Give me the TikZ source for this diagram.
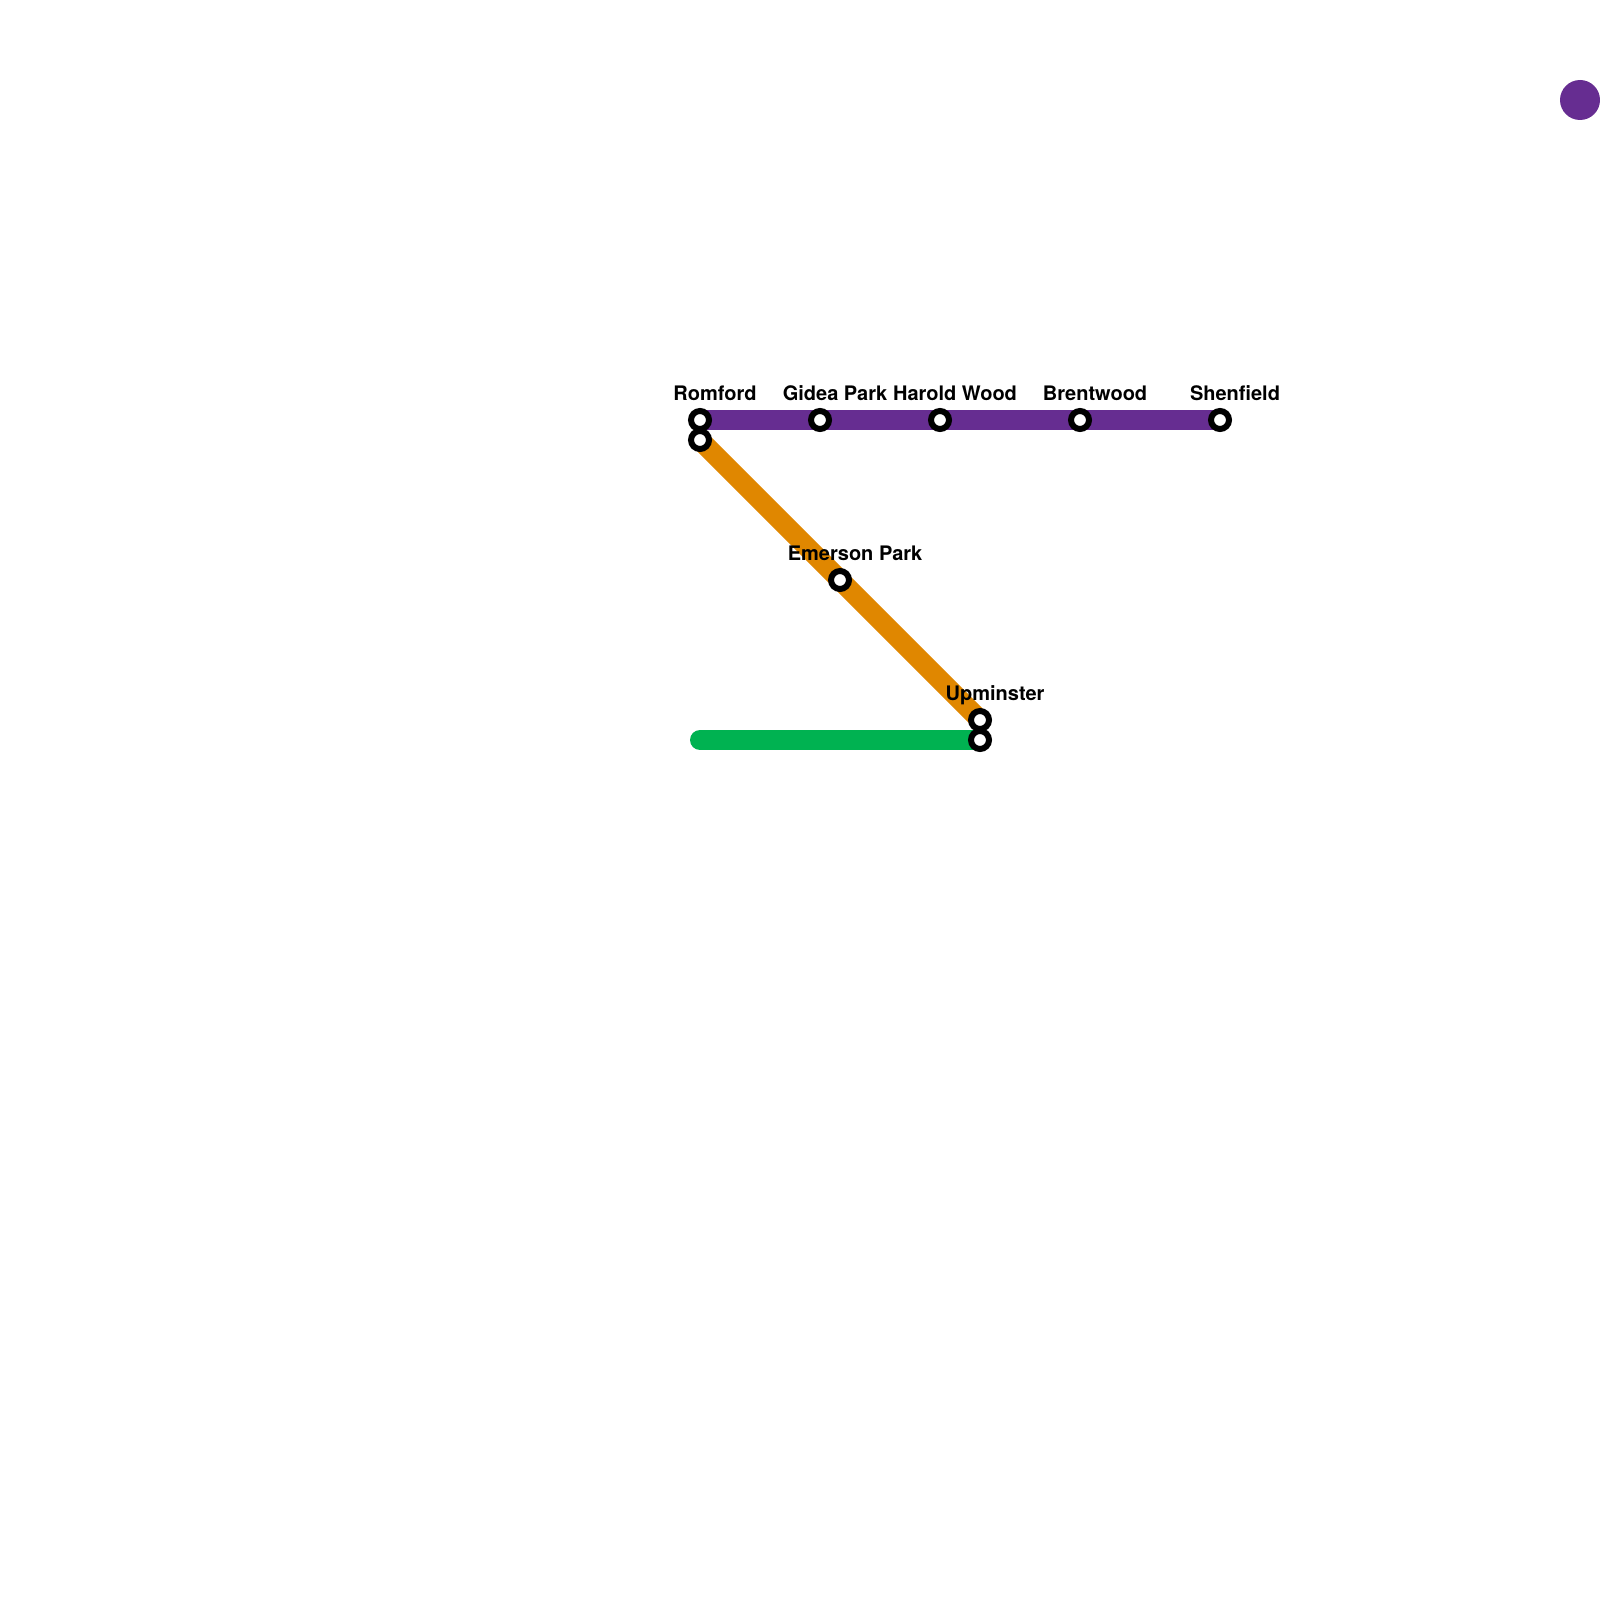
\documentclass[tikz,border=0pt]{standalone}
\usepackage{fontspec}
\setmainfont{TeX Gyre Heros}
\usetikzlibrary{backgrounds}
\definecolor{linepurple}{HTML}{662D91}
\definecolor{lineorange}{HTML}{E08700}
\definecolor{linegreen}{HTML}{00B251}
\tikzset{
  x=0.5pt,y=-0.5pt,
  station/.style={circle,draw=black,fill=white,line width=3pt,minimum size=9pt,inner sep=0pt,outer sep=0pt},
  stationlabel/.style={anchor=base,font=\fontsize{10}{12}\selectfont\bfseries,inner sep=0pt,text=black},
  routeline/.style={line width=10pt,line cap=round},
  legenddot/.style={circle,fill=linepurple,draw=none,minimum size=20pt,inner sep=0pt,outer sep=0pt}
}
\begin{document}
\begin{tikzpicture}
\useasboundingbox (0,0) rectangle (1600,1600);
\node[station] (romfordA) at (700,420) {};
\node[station] (romfordB) at (700,440) {};
\node[station] (gidea) at (820,420) {};
\node[station] (harold) at (940,420) {};
\node[station] (brentwood) at (1080,420) {};
\node[station] (shenfield) at (1220,420) {};
\node[station] (emerson) at (840,580) {};
\node[station] (upminsterA) at (980,720) {};
\node[station] (upminsterB) at (980,740) {};
\coordinate (greenend) at (700,740);
\node[legenddot] (legend) at (1580,100) {};
\begin{scope}[on background layer]
\draw[routeline,linepurple] (romfordA.center) -- (gidea.center) -- (harold.center) -- (brentwood.center) -- (shenfield.center);
\draw[routeline,lineorange] (romfordB.center) -- (emerson.center) -- (upminsterA.center);
\draw[routeline,linegreen] (greenend) -- (upminsterB.center);
\end{scope}
\node[stationlabel] (lromford) at (715,400) {Romford};
\node[stationlabel] (lgidea) at (835,400) {Gidea Park};
\node[stationlabel] (lharold) at (955,400) {Harold Wood};
\node[stationlabel] (lbrentwood) at (1095,400) {Brentwood};
\node[stationlabel] (lshenfield) at (1235,400) {Shenfield};
\node[stationlabel] (lemerson) at (855,560) {Emerson Park};
\node[stationlabel] (lupminster) at (995,700) {Upminster};
\end{tikzpicture}
\end{document}
